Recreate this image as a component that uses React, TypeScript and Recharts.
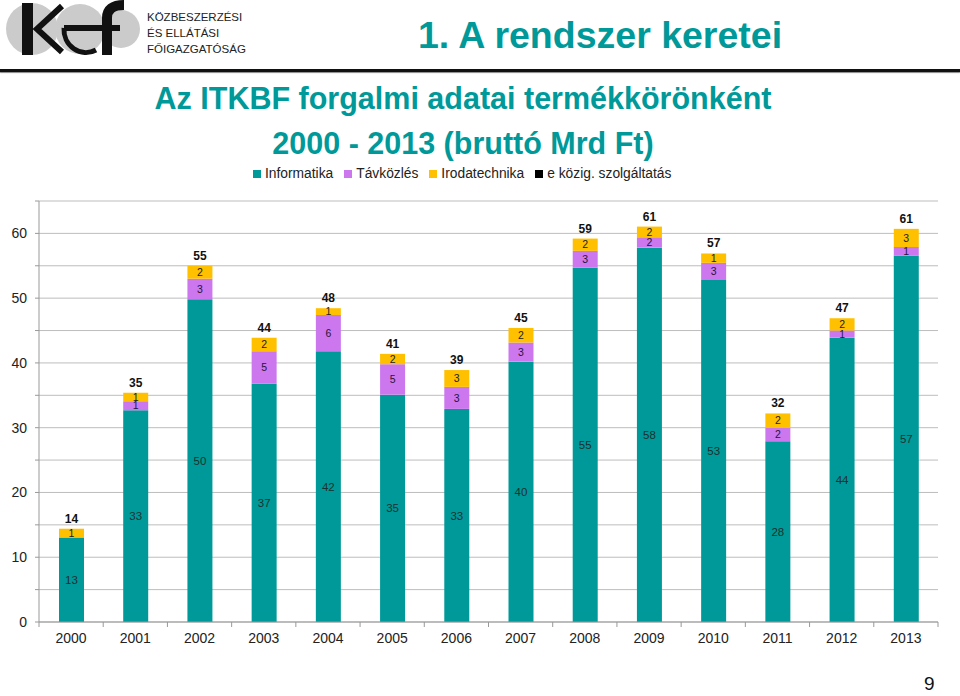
import { Bar, BarChart, CartesianGrid, LabelList, XAxis, YAxis } from 'recharts'

const YEARS = ['2000', '2001', '2002', '2003', '2004', '2005', '2006', '2007', '2008', '2009', '2010', '2011', '2012', '2013']
const INFORMATIKA = [13.05, 32.7, 49.85, 36.8, 41.8, 35.1, 32.9, 40.2, 54.7, 57.8, 52.8, 27.9, 43.9, 56.6]
const TAVKOZLES = [0, 1.4, 3.15, 5.0, 5.6, 4.7, 3.4, 2.95, 2.6, 1.6, 2.65, 2.1, 1.1, 1.3]
const IRODATECHNIKA = [1.35, 1.3, 2.0, 2.1, 1.05, 1.6, 2.6, 2.25, 1.9, 1.65, 1.45, 2.2, 1.9, 2.8]
const E_KOZIG = [0, 0, 0, 0, 0, 0, 0, 0, 0, 0, 0, 0, 0, 0]
const Y_TICKS = [0, 5, 10, 15, 20, 25, 30, 35, 40, 45, 50, 55, 60, 65]

const TEAL = '#009999'
const PURPLE = '#CC77EE'
const YELLOW = '#FFC000'
const FONT = '"Liberation Sans", Arial, sans-serif'

const LEGEND = [
  { name: 'Informatika', color: TEAL },
  { name: 'Távközlés', color: PURPLE },
  { name: 'Irodatechnika', color: YELLOW },
  { name: 'e közig. szolgáltatás', color: '#000' },
]

const CHART_W = 960
const CHART_H = 696
const MARGIN = { top: 201, right: 22, left: 0, bottom: 44 }
const Y_AXIS_W = 39
const BAND = (CHART_W - MARGIN.left - MARGIN.right - Y_AXIS_W) / YEARS.length
const X_TICK_SIZE = 4
const X_TICK_MARGIN = 7

const data = YEARS.map((year, i) => ({
  year,
  informatika: INFORMATIKA[i],
  tavkozles: TAVKOZLES[i],
  irodatechnika: IRODATECHNIKA[i],
  ekozig: E_KOZIG[i],
  total: INFORMATIKA[i] + TAVKOZLES[i] + IRODATECHNIKA[i] + E_KOZIG[i],
}))

const roundLabel = (v: any) => (v ? Math.round(Number(v)) : '')

function YearTick(props: any) {
  const { x, y, payload, index } = props
  const axisY = y - X_TICK_SIZE - X_TICK_MARGIN
  return (
    <g>
      {index === 0 && (
        <line x1={x - BAND / 2} y1={axisY} x2={x - BAND / 2} y2={axisY + 5} stroke="#999" />
      )}
      <line x1={x + BAND / 2} y1={axisY} x2={x + BAND / 2} y2={axisY + 5} stroke="#999" />
      <text x={x} y={y} dy="0.71em" textAnchor="middle" fontSize={14} fill="#222" fontFamily={FONT}>
        {payload.value}
      </text>
    </g>
  )
}

function Logo() {
  return (
    <svg width={140} height={60} style={{ position: 'absolute', left: 2, top: 0 }}>
      <circle cx={30} cy={29} r={26} fill="#cbcbcb" />
      <circle cx={78} cy={29} r={25} fill="#cbcbcb" />
      <circle cx={119} cy={29} r={19} fill="#cbcbcb" />
      <rect x={20} y={3} width={11} height={52} fill="#111" />
      <polyline points="60,6 35,29 60,52" fill="none" stroke="#111" strokeWidth={6} />
      <line x1={62} y1={28} x2={118} y2={28} stroke="#111" strokeWidth={6} />
      <path d="M 62 28 A 22 23 0 0 0 94 50" fill="none" stroke="#111" strokeWidth={5} />
      <path d="M 105 55 L 105 18 Q 105 5 122 5" fill="none" stroke="#111" strokeWidth={10} />
    </svg>
  )
}

export default function App() {
  return (
    <div
      style={{
        position: 'fixed',
        left: 0,
        top: 0,
        width: CHART_W,
        height: CHART_H,
        background: '#fff',
        fontFamily: FONT,
        overflow: 'hidden',
      }}
    >
      <Logo />
      <div style={{ position: 'absolute', left: 147, top: 9, fontSize: 11.5, lineHeight: '16px', color: '#222' }}>
        KÖZBESZERZÉSI
        <br />
        ÉS ELLÁTÁSI
        <br />
        FŐIGAZGATÓSÁG
      </div>
      <div style={{ position: 'absolute', left: 418, top: 13, fontSize: 37.5, fontWeight: 'bold', color: TEAL, lineHeight: '44px' }}>
        1. A rendszer keretei
      </div>
      <div style={{ position: 'absolute', left: 0, right: 0, top: 69, height: 3, background: '#111', boxShadow: '0 1px 1px #888' }} />

      <div
        style={{
          position: 'absolute',
          left: 0,
          top: 76,
          width: 926,
          textAlign: 'center',
          fontSize: 30.5,
          fontWeight: 'bold',
          color: TEAL,
          lineHeight: '45px',
        }}
      >
        Az ITKBF forgalmi adatai termékkörönként
        <br />
        2000 - 2013 (bruttó Mrd Ft)
      </div>

      <div
        style={{
          position: 'absolute',
          left: 253,
          top: 166,
          display: 'flex',
          gap: 11,
          fontSize: 13.8,
          color: '#222',
          lineHeight: '16px',
        }}
      >
        {LEGEND.map((item) => (
          <div key={item.name} style={{ display: 'flex', alignItems: 'center' }}>
            <span style={{ width: 8, height: 8, background: item.color, marginRight: 4, display: 'inline-block' }} />
            {item.name}
          </div>
        ))}
      </div>

      <div style={{ position: 'absolute', left: 0, top: 0 }}>
        <BarChart width={CHART_W} height={CHART_H} data={data} margin={MARGIN} barSize={25}>
          <CartesianGrid vertical={false} stroke="#bdbdbd" />
          <XAxis
            dataKey="year"
            axisLine={{ stroke: '#999' }}
            tickLine={false}
            tickSize={X_TICK_SIZE}
            tickMargin={X_TICK_MARGIN}
            height={30}
            interval={0}
            tick={<YearTick />}
          />
          <YAxis
            width={Y_AXIS_W}
            domain={[0, 65]}
            ticks={Y_TICKS}
            interval={0}
            tickFormatter={(v: number) => (v % 10 === 0 ? String(v) : '')}
            axisLine={{ stroke: '#999' }}
            tickLine={{ stroke: '#999' }}
            tickSize={4}
            tickMargin={8}
            tick={{ fontSize: 14, fill: '#222', fontFamily: FONT }}
          />
          <Bar dataKey="informatika" stackId="a" fill={TEAL} isAnimationActive={false}>
            <LabelList dataKey="informatika" position="center" formatter={roundLabel} fontSize={11.5} fill="#1c3030" fontFamily={FONT} />
          </Bar>
          <Bar dataKey="tavkozles" stackId="a" fill={PURPLE} isAnimationActive={false}>
            <LabelList dataKey="tavkozles" position="center" formatter={roundLabel} fontSize={10.5} fill="#2a1438" fontFamily={FONT} />
          </Bar>
          <Bar dataKey="irodatechnika" stackId="a" fill={YELLOW} isAnimationActive={false}>
            <LabelList dataKey="irodatechnika" position="center" formatter={roundLabel} fontSize={10.5} fill="#222" fontFamily={FONT} />
            <LabelList dataKey="total" position="top" offset={6} formatter={roundLabel} fontSize={12} fontWeight="bold" fill="#111" fontFamily={FONT} />
          </Bar>
          <Bar dataKey="ekozig" stackId="a" fill="#000" isAnimationActive={false} />
        </BarChart>
      </div>

      <div style={{ position: 'absolute', left: 924, top: 674, fontSize: 19, lineHeight: '20px', color: '#111' }}>9</div>
    </div>
  )
}
